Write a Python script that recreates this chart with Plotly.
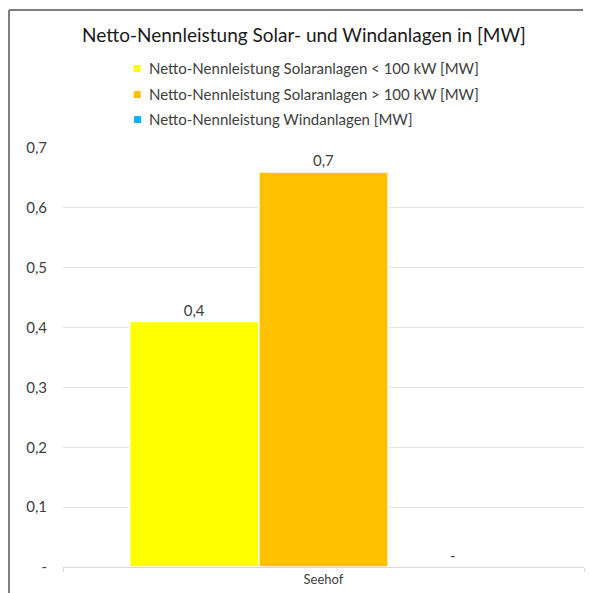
import plotly.graph_objects as go

categories = ["Seehof"]
series_names = [
    "Netto-Nennleistung Solaranlagen < 100 kW [MW]",
    "Netto-Nennleistung Solaranlagen > 100 kW [MW]",
    "Netto-Nennleistung Windanlagen [MW]",
]
solar_small = [0.41]
solar_large = [0.66]
wind = [0.0]
series_colors = ["#ffff00", "#ffc000", "#00b0f0"]
y_tick_vals = [0, 0.1, 0.2, 0.3, 0.4, 0.5, 0.6, 0.7]
y_tick_text = ["-", "0,1", "0,2", "0,3", "0,4", "0,5", "0,6", "0,7"]
title_text = "Netto-Nennleistung Solar- und Windanlagen in [MW]"

FONT = "Lato"
W, H = 591, 593
L, R, T, B = 63, 7, 148, 26
pw = W - L - R
ph = H - T - B


def fmt(v):
    return "-" if v == 0 else f"{v:.1f}".replace(".", ",")


def px_x(px):
    return (px - L) / pw


def px_y(py):
    return (H - B - py) / ph


fig = go.Figure()
for name, vals, col in zip(series_names, [solar_small, solar_large, wind], series_colors):
    fig.add_trace(go.Bar(
        x=categories, y=vals, name=name,
        marker=dict(color=col, line=dict(color="white", width=1.5)),
        text=[fmt(v) for v in vals], textposition="outside",
        textfont=dict(family=FONT, size=15, color="#404040"),
        cliponaxis=False, showlegend=False,
    ))

# legend drawn as text: small coloured square + series name
legend_rows_y = [68, 94, 119]
annotations = []
for name, col, ry in zip(series_names, series_colors, legend_rows_y):
    annotations.append(dict(xref="paper", yref="paper", x=px_x(137), y=px_y(ry),
                            text="■", showarrow=False, xanchor="center", yanchor="middle",
                            font=dict(family="DejaVu Sans", size=9, color=col)))
    annotations.append(dict(xref="paper", yref="paper", x=px_x(147), y=px_y(ry),
                            text=name, showarrow=False, xanchor="left", yanchor="middle",
                            font=dict(family=FONT, size=15, color="#404040")))

frame_style = dict(color="#7f7f7f", width=2)
fig.update_layout(
    width=W, height=H,
    margin=dict(l=L, r=R, t=T, b=B, autoexpand=False),
    paper_bgcolor="white", plot_bgcolor="white",
    separators=",.",
    barmode="group", bargap=0.256, bargroupgap=0,
    showlegend=False,
    font=dict(family=FONT, color="#595959"),
    title=dict(text=title_text, font=dict(family=FONT, size=19, color="#1a1a1a"),
               xref="container", yref="container", x=304 / W, y=1 - 35 / H,
               xanchor="center", yanchor="middle"),
    xaxis=dict(showgrid=False, showline=True, linecolor="#d9d9d9", linewidth=1,
               ticks="outside", tickson="boundaries", ticklen=4, tickcolor="#d9d9d9",
               tickfont=dict(family=FONT, size=13, color="#404040")),
    yaxis=dict(range=[0, 0.7], tickvals=y_tick_vals, ticktext=y_tick_text,
               showgrid=True, gridcolor="#e4e4e4", gridwidth=1, zeroline=False,
               ticks="", ticklabelstandoff=15,
               tickfont=dict(family=FONT, size=15, color="#404040")),
    annotations=annotations,
    shapes=[
        dict(type="line", xref="paper", yref="paper",
             x0=px_x(9), x1=px_x(9), y0=px_y(H), y1=px_y(10), line=frame_style),
        dict(type="line", xref="paper", yref="paper",
             x0=px_x(9), x1=px_x(583), y0=px_y(10), y1=px_y(10), line=frame_style),
    ],
)

fig.write_html(
    "out.html",
    config={"displayModeBar": False},
    post_script="document.documentElement.style.overflow='hidden';"
                "document.documentElement.style.scrollbarWidth='none';"
                "document.body.style.margin='0';document.body.style.overflow='hidden';",
)
